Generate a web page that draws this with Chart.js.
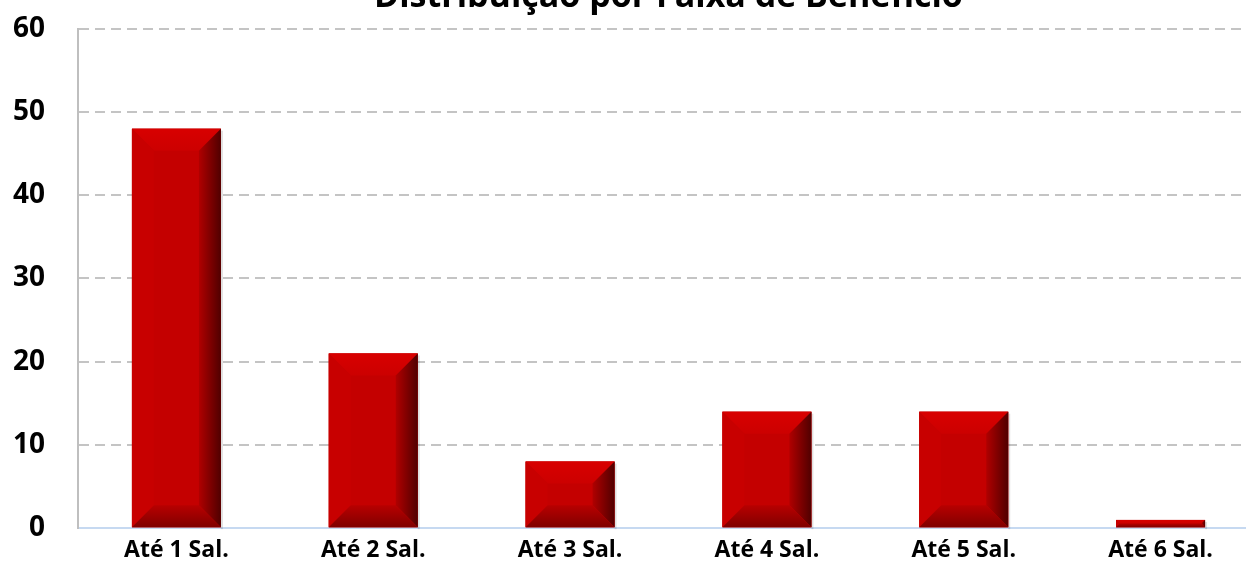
<!DOCTYPE html>
<html lang="pt">
<head>
<meta charset="utf-8">
<title>Distribuição por Faixa de Benefício</title>
<script src="https://cdn.jsdelivr.net/npm/chart.js@4.4.1/dist/chart.umd.min.js"></script>
<style>
    html, body { margin: 0; padding: 0; background: #fff; overflow: hidden; }
    #wrap { position: absolute; left: 0; top: -30px; width: 1259px; height: 608px; }
</style>
</head>
<body>
<div id="wrap"><canvas id="chart"></canvas></div>
<script>
// dados do gráfico
const categorias = ['Até 1 Sal.', 'Até 2 Sal.', 'Até 3 Sal.', 'Até 4 Sal.', 'Até 5 Sal.', 'Até 6 Sal.'];
const quantidades = [48, 21, 8, 14, 14, 1];
const titulo = 'Distribuição por Faixa de Benefício';
const eixoMin = 0;
const eixoMax = 60;
const eixoPasso = 10;

document.addEventListener('DOMContentLoaded', function() {
    'use strict';

    // ============================================================
    // BARRAS EM RELEVO (chanfro nas bordas)
    // ============================================================
    const relevo = {
        id: 'relevo',
        afterDatasetsDraw: function(chart) {
            const ctx = chart.ctx;
            chart.getDatasetMeta(0).data.forEach(function(bar) {
                const left = bar.x - bar.width / 2;
                const right = bar.x + bar.width / 2;
                const top = bar.y;
                const bottom = bar.base;
                const h = bottom - top;
                const b = Math.min(22, bar.width / 2, h / 2);
                ctx.save();
                // sombra leve
                ctx.fillStyle = 'rgba(0,0,0,0.12)';
                ctx.fillRect(right, top + 2, 2, h);
                // face
                ctx.fillStyle = '#c40000';
                ctx.fillRect(left, top, right - left, h);
                // topo
                const gt = ctx.createLinearGradient(0, top, 0, top + b);
                gt.addColorStop(0, '#d80000');
                gt.addColorStop(1, '#cc0000');
                ctx.fillStyle = gt;
                poly(ctx, [[left, top], [right, top], [right - b, top + b], [left + b, top + b]]);
                // esquerda
                ctx.fillStyle = '#c80000';
                poly(ctx, [[left, top], [left + b, top + b], [left + b, bottom - b], [left, bottom]]);
                // direita
                const gd = ctx.createLinearGradient(right - b, 0, right, 0);
                gd.addColorStop(0, '#b00000');
                gd.addColorStop(1, '#500000');
                ctx.fillStyle = gd;
                poly(ctx, [[right, top], [right, bottom], [right - b, bottom - b], [right - b, top + b]]);
                // base
                const gb = ctx.createLinearGradient(0, bottom - b, 0, bottom);
                gb.addColorStop(0, '#b80000');
                gb.addColorStop(1, '#800000');
                ctx.fillStyle = gb;
                poly(ctx, [[left, bottom], [left + b, bottom - b], [right - b, bottom - b], [right, bottom]]);
                ctx.restore();
            });
        }
    };

    function poly(ctx, pts) {
        ctx.beginPath();
        ctx.moveTo(pts[0][0], pts[0][1]);
        for (let i = 1; i < pts.length; i++) ctx.lineTo(pts[i][0], pts[i][1]);
        ctx.closePath();
        ctx.fill();
    }

    new Chart(document.getElementById('chart'), {
        type: 'bar',
        data: {
            labels: categorias,
            datasets: [{
                label: 'Quantidade',
                data: quantidades,
                backgroundColor: '#c40000',
                borderWidth: 0,
                categoryPercentage: 1,
                barPercentage: 0.452
            }]
        },
        plugins: [relevo],
        options: {
            responsive: true,
            maintainAspectRatio: false,
            animation: false,
            layout: { padding: { left: 0, right: 0, top: 0, bottom: 0 } },
            plugins: {
                legend: { display: false },
                tooltip: { enabled: false },
                title: {
                    display: true,
                    fullSize: false,
                    text: titulo,
                    color: '#000',
                    font: { family: 'Open Sans', size: 34, weight: 'bold' },
                    padding: { top: 7, bottom: 11 }
                }
            },
            scales: {
                x: {
                    afterFit: function(scale) { scale.height = 44; },
                    grid: { display: false },
                    border: { display: true, color: '#c6d9f1', width: 2 },
                    ticks: {
                        color: '#000',
                        padding: 0,
                        font: { family: 'Open Sans', size: 23, weight: 'bold' }
                    }
                },
                y: {
                    min: eixoMin,
                    max: eixoMax,
                    afterFit: function(scale) { scale.width = 78; },
                    border: { display: true, color: '#bfbfbf', width: 2, dash: [10, 6] },
                    grid: {
                        color: function(c) { return c.tick.value === 0 ? 'rgba(0,0,0,0)' : '#c4c4c4'; },
                        lineWidth: 2,
                        drawTicks: false
                    },
                    ticks: {
                        stepSize: eixoPasso,
                        color: '#000',
                        padding: 33,
                        font: { family: 'Open Sans', size: 28, weight: 'bold' }
                    }
                }
            }
        }
    });
});
</script>
</body>
</html>
